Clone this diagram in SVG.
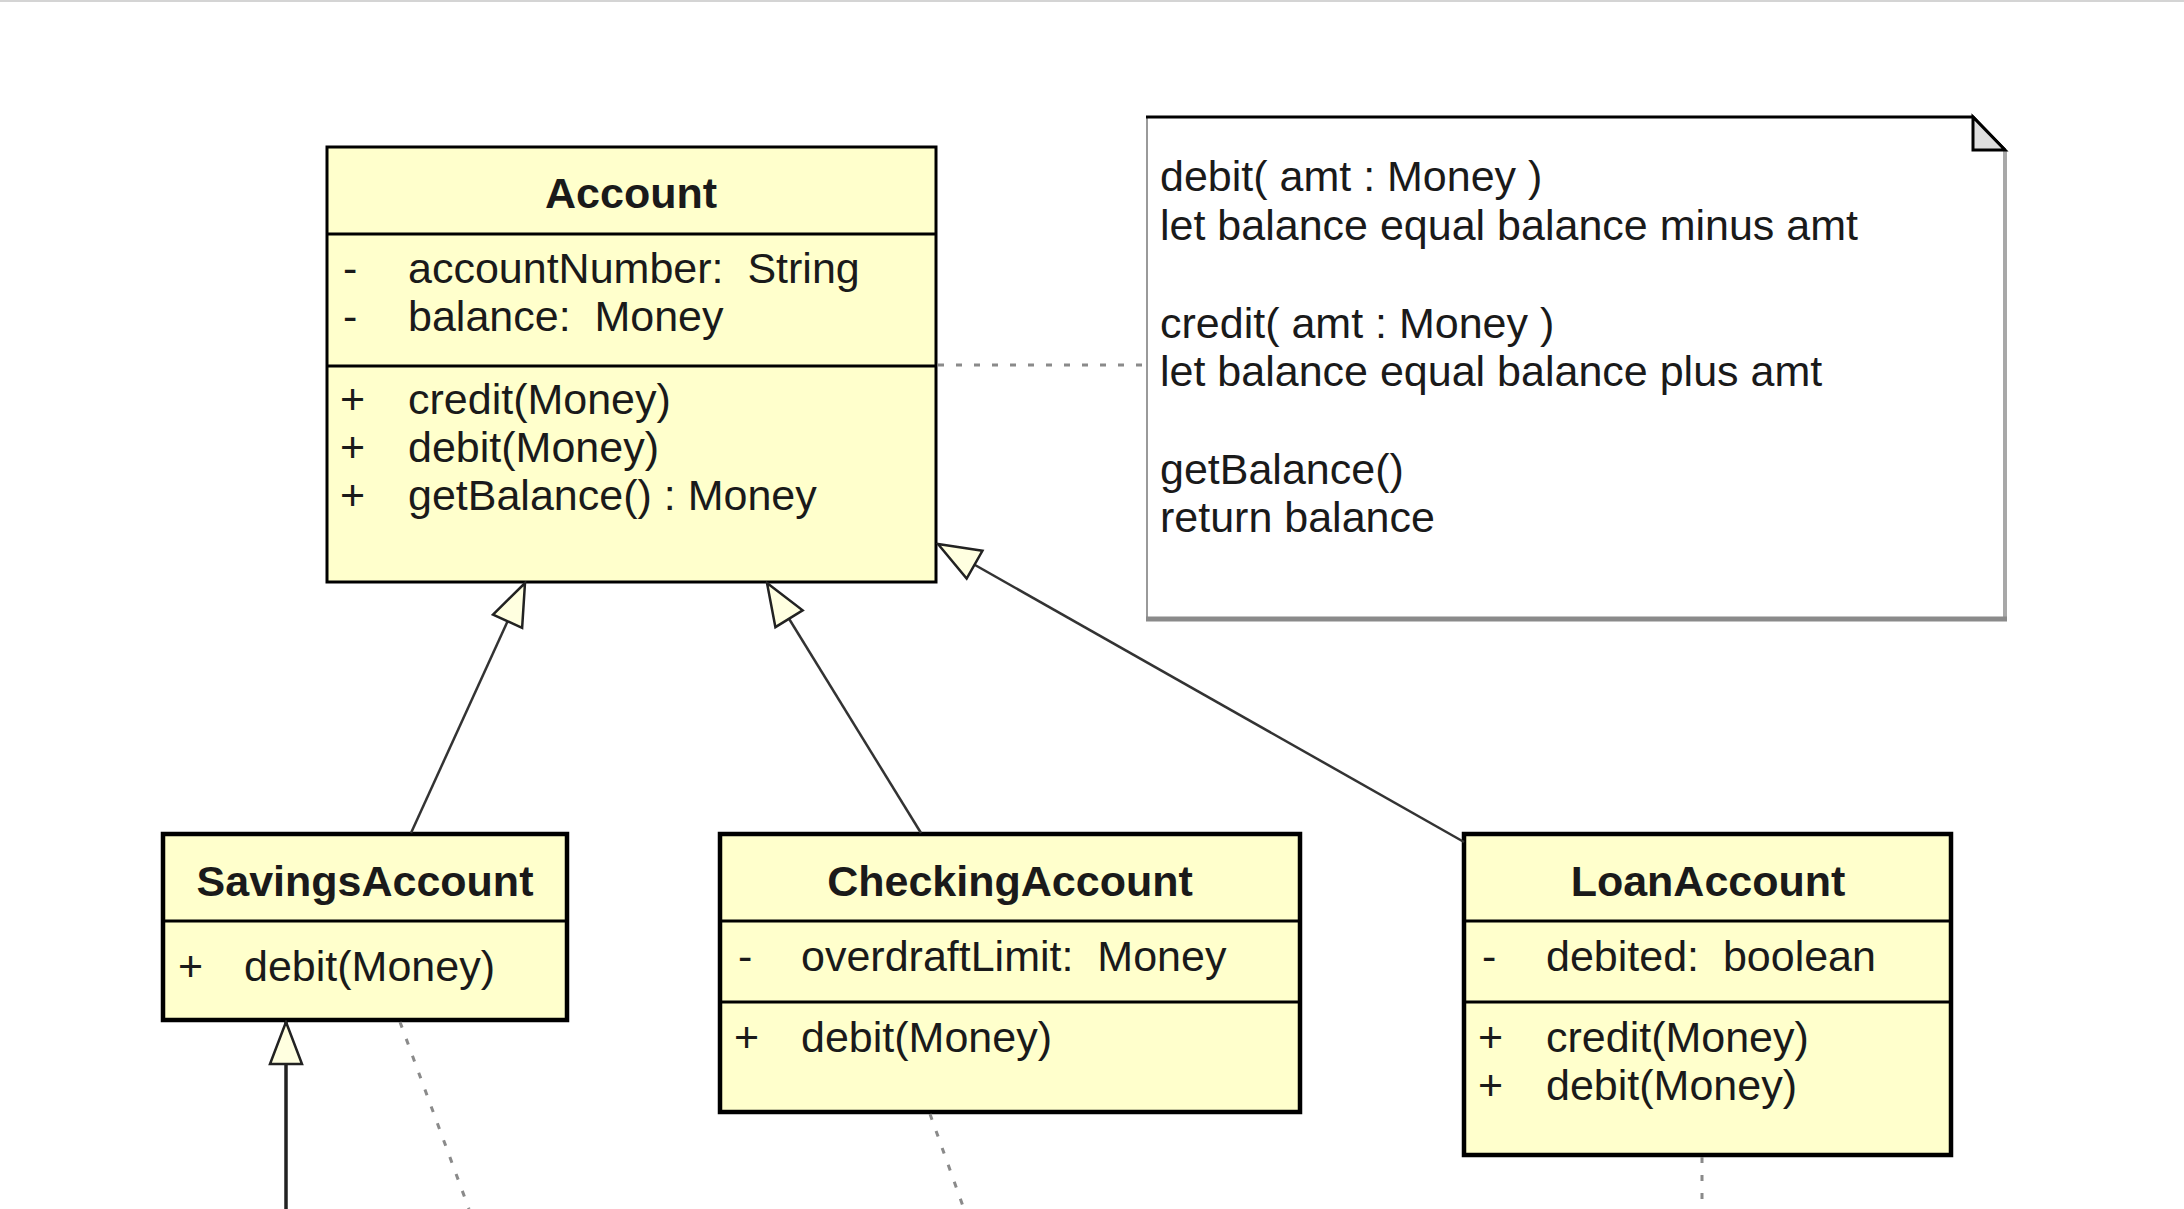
<svg xmlns="http://www.w3.org/2000/svg" width="2184" height="1209" viewBox="0 0 2184 1209">
<style>
.box{fill:#ffffcc;stroke:#000;stroke-width:3}
.box2{fill:#ffffcc;stroke:#000;stroke-width:4.5}
.div{stroke:#000;stroke-width:3}
.t{font-family:"Liberation Sans",Arial,sans-serif;font-size:43px;fill:#1a1a1a;white-space:pre}
.title{font-family:"Liberation Sans",Arial,sans-serif;font-size:43px;font-weight:bold;fill:#1a1a1a;text-anchor:middle}
.gen{stroke:#333;stroke-width:2.5;fill:none}
.dash{stroke:#8a8a8a;stroke-width:3;stroke-dasharray:6 12;fill:none}
</style>
<defs>
<marker id="tri" markerUnits="userSpaceOnUse" markerWidth="50" markerHeight="40" viewBox="-2 -20 50 40" refX="0" refY="0" orient="auto">
<path d="M0,0 L42,-16 L42,16 Z" fill="#ffffe0" stroke="#222" stroke-width="2.5" stroke-linejoin="miter"/>
</marker>
</defs>
<rect width="2184" height="1209" fill="#fff"/>
<line x1="0" y1="1" x2="2184" y2="1" stroke="#d4d4d4" stroke-width="2"/>

<g id="Account">
<rect class="box" x="327" y="147" width="609" height="435"/>
<line class="div" x1="327" y1="234" x2="936" y2="234"/>
<line class="div" x1="327" y1="366" x2="936" y2="366"/>
<text class="title" x="631" y="208">Account</text>
<text class="t" x="343" y="283">-</text>
<text class="t" x="408" y="283">accountNumber:&#160; String</text>
<text class="t" x="343" y="331">-</text>
<text class="t" x="408" y="331">balance:&#160; Money</text>
<text class="t" x="340" y="414">+</text>
<text class="t" x="408" y="414">credit(Money)</text>
<text class="t" x="340" y="462">+</text>
<text class="t" x="408" y="462">debit(Money)</text>
<text class="t" x="340" y="510">+</text>
<text class="t" x="408" y="510">getBalance() : Money</text>
</g>

<g id="Note">
<rect x="1146" y="117" width="859" height="502" fill="#fff"/>
<line x1="1147" y1="117" x2="1147" y2="618" stroke="#9a9a9a" stroke-width="2"/>
<line x1="2005" y1="150" x2="2005" y2="620" stroke="#a8a8a8" stroke-width="4"/>
<line x1="1146" y1="619" x2="2007" y2="619" stroke="#8a8a8a" stroke-width="5"/>
<path d="M1146,117 L1973,117 L2005,150" fill="none" stroke="#000" stroke-width="3"/>
<path d="M1973,117 L1973,150 L2005,150 Z" fill="#dedede" stroke="#000" stroke-width="3" stroke-linejoin="miter"/>
<text class="t" x="1160" y="191">debit( amt : Money )</text>
<text class="t" x="1160" y="240">let balance equal balance minus amt</text>
<text class="t" x="1160" y="338">credit( amt : Money )</text>
<text class="t" x="1160" y="386">let balance equal balance plus amt</text>
<text class="t" x="1160" y="484">getBalance()</text>
<text class="t" x="1160" y="532">return balance</text>
</g>

<g id="SavingsAccount">
<rect class="box2" x="163" y="834" width="404" height="186"/>
<line class="div" x1="163" y1="921" x2="567" y2="921"/>
<text class="title" x="365" y="896">SavingsAccount</text>
<text class="t" x="178" y="981">+</text>
<text class="t" x="244" y="981">debit(Money)</text>
</g>

<g id="CheckingAccount">
<rect class="box2" x="720" y="834" width="580" height="278"/>
<line class="div" x1="720" y1="921" x2="1300" y2="921"/>
<line class="div" x1="720" y1="1002" x2="1300" y2="1002"/>
<text class="title" x="1010" y="896">CheckingAccount</text>
<text class="t" x="738" y="971">-</text>
<text class="t" x="801" y="971">overdraftLimit:&#160; Money</text>
<text class="t" x="734" y="1052">+</text>
<text class="t" x="801" y="1052">debit(Money)</text>
</g>

<g id="LoanAccount">
<rect class="box2" x="1464" y="834" width="487" height="321"/>
<line class="div" x1="1464" y1="921" x2="1951" y2="921"/>
<line class="div" x1="1464" y1="1002" x2="1951" y2="1002"/>
<text class="title" x="1708" y="896">LoanAccount</text>
<text class="t" x="1482" y="971">-</text>
<text class="t" x="1546" y="971">debited:&#160; boolean</text>
<text class="t" x="1478" y="1052">+</text>
<text class="t" x="1546" y="1052">credit(Money)</text>
<text class="t" x="1478" y="1100">+</text>
<text class="t" x="1546" y="1100">debit(Money)</text>
</g>

<g id="connectors">
<line class="gen" x1="525" y1="583" x2="411" y2="833" marker-start="url(#tri)"/>
<line class="gen" x1="767" y1="583" x2="921" y2="833" marker-start="url(#tri)"/>
<line class="gen" x1="938" y1="544" x2="1464" y2="842" marker-start="url(#tri)"/>
<line x1="286" y1="1022" x2="286" y2="1209" stroke="#222" stroke-width="3.5" marker-start="url(#tri)"/>
<line class="dash" x1="938" y1="365" x2="1146" y2="365"/>
<line class="dash" x1="400" y1="1022" x2="469" y2="1209"/>
<line class="dash" x1="930" y1="1114" x2="964" y2="1209"/>
<line class="dash" x1="1702" y1="1157" x2="1702" y2="1209"/>
</g>
</svg>
